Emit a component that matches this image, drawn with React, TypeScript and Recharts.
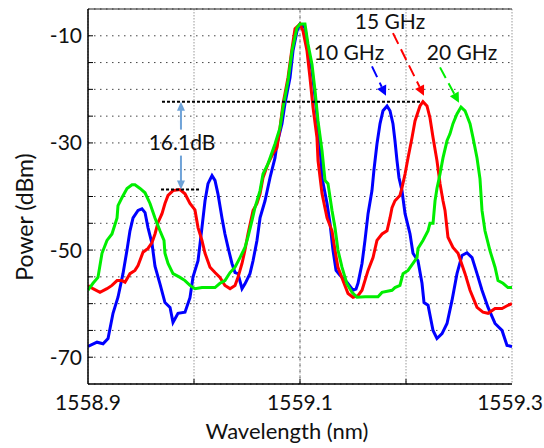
import { LineChart, Line, XAxis, YAxis, CartesianGrid, ReferenceLine, ReferenceDot } from 'recharts';

const FONT = 'Lato, "Open Sans", sans-serif';

// axis ticks
const xTicks = [1558.9, 1559.0, 1559.1, 1559.2, 1559.3];
const xLabels = [1558.9, 1559.1, 1559.3];
const yTicks = [-75, -70, -65, -60, -55, -50, -45, -40, -35, -30, -25, -20, -15, -10, -5];
const yLabels = [-70, -50, -30, -10];

// spectra, [wavelength nm, power dBm]
const spec10: [number, number][] = [
  [1558.9, -68], [1558.9085, -67.2], [1558.9142, -67.5], [1558.9189, -66.5], [1558.9236, -61.8],
  [1558.9283, -58.8], [1558.933, -54.4], [1558.9368, -50], [1558.9396, -46.4], [1558.9425, -44],
  [1558.9472, -42.6], [1558.9509, -42.3], [1558.9538, -43], [1558.9566, -45.8], [1558.9604, -48.8],
  [1558.9632, -53], [1558.9679, -56.3], [1558.9726, -59.8], [1558.9774, -60.7], [1558.9802, -63.5],
  [1558.9849, -61.8], [1558.9915, -61.6], [1558.9962, -58.9], [1558.9991, -55], [1559.0038, -52],
  [1559.0075, -45.8], [1559.0104, -40.8], [1559.0132, -37.6], [1559.017, -36.1], [1559.0198, -37],
  [1559.0226, -39.5], [1559.0264, -44], [1559.0292, -47], [1559.0321, -49.5], [1559.0358, -52.5],
  [1559.0387, -54.2], [1559.0415, -54.4], [1559.0453, -57.2], [1559.0481, -56.3], [1559.0528, -54.4],
  [1559.0557, -52], [1559.0594, -48.2], [1559.0623, -44], [1559.067, -40.8], [1559.0717, -36.5],
  [1559.0764, -32.8], [1559.0783, -30.2], [1559.083, -26.4], [1559.0858, -22.7], [1559.0906, -17.8],
  [1559.0934, -12.8], [1559.0972, -9.1], [1559.1, -7.8], [1559.1047, -8.5], [1559.1075, -12.3],
  [1559.1113, -16.5], [1559.1142, -21.5], [1559.117, -27], [1559.1189, -30.9], [1559.1208, -36.5],
  [1559.1255, -41.3], [1559.1283, -45], [1559.1311, -50], [1559.134, -53.8], [1559.1377, -54.7],
  [1559.1443, -56], [1559.15, -57.5], [1559.1528, -57.3], [1559.1547, -56.2], [1559.1585, -52.5],
  [1559.1613, -48.2], [1559.1642, -43.2], [1559.1679, -38.9], [1559.1698, -35], [1559.1726, -30.2],
  [1559.1755, -26.4], [1559.1783, -24], [1559.1821, -23.1], [1559.1849, -24], [1559.1877, -26.4],
  [1559.1896, -29.6], [1559.1915, -33.3], [1559.1934, -36.5], [1559.1962, -38.9], [1559.1991, -43.2],
  [1559.2038, -47], [1559.2066, -50.6], [1559.2113, -52], [1559.2151, -56.2], [1559.217, -59.8],
  [1559.2208, -60.3], [1559.2255, -65], [1559.2292, -66.5], [1559.234, -65.6], [1559.2387, -63.7],
  [1559.2434, -59.4], [1559.2481, -54.4], [1559.2528, -51], [1559.2575, -50.5], [1559.2623, -51.4],
  [1559.267, -54.4], [1559.2717, -57.5], [1559.2774, -60.7], [1559.284, -63.7], [1559.2906, -65],
  [1559.2953, -67.8], [1559.3, -68],
];

const spec15: [number, number][] = [
  [1558.9, -56.6], [1558.9047, -57.2], [1558.9113, -57.9], [1558.9179, -57.2], [1558.9226, -56.6],
  [1558.9274, -55.7], [1558.9321, -55.7], [1558.9349, -56], [1558.9396, -54.4], [1558.9443, -53.8],
  [1558.9472, -52.9], [1558.9519, -50.4], [1558.9566, -49.7], [1558.9604, -48.6], [1558.9632, -47],
  [1558.966, -44.9], [1558.9698, -43.2], [1558.9726, -41.3], [1558.9755, -39.8], [1558.9802, -38.9],
  [1558.9868, -38.7], [1558.9915, -39.5], [1558.9962, -41.3], [1559.0009, -42.5], [1559.0038, -45.8],
  [1559.0075, -48.2], [1559.0104, -50.6], [1559.0151, -53.2], [1559.0198, -54.2], [1559.0245, -55.1],
  [1559.0292, -56.6], [1559.034, -57.2], [1559.0387, -56.6], [1559.0415, -55.1], [1559.0453, -52.5],
  [1559.0481, -50], [1559.0509, -47], [1559.0557, -42.6], [1559.0594, -41.3], [1559.0623, -39.5],
  [1559.0651, -36.5], [1559.0698, -33.9], [1559.0745, -32], [1559.0783, -30.9], [1559.0811, -27.2],
  [1559.084, -22.7], [1559.0887, -17.8], [1559.0925, -12.3], [1559.0953, -8.7], [1559.1, -7.8],
  [1559.1028, -9.1], [1559.1066, -12.8], [1559.1094, -17.8], [1559.1123, -23.4], [1559.116, -29],
  [1559.117, -33.3], [1559.1208, -39.5], [1559.1255, -44], [1559.1302, -46.4], [1559.133, -50],
  [1559.1358, -53.2], [1559.1406, -55.7], [1559.1453, -58.1], [1559.15, -58.8], [1559.1547, -58.5],
  [1559.1585, -57.5], [1559.1642, -53.8], [1559.1689, -51.4], [1559.1726, -48.2], [1559.1774, -47],
  [1559.1821, -46.4], [1559.1849, -44], [1559.1868, -42.1], [1559.1896, -40.8], [1559.1943, -39.8],
  [1559.1962, -38.4], [1559.1991, -35.8], [1559.2019, -32.8], [1559.2057, -29], [1559.2085, -25.9],
  [1559.2132, -23.1], [1559.216, -22.3], [1559.2198, -23.1], [1559.2226, -25.3], [1559.2255, -29],
  [1559.2292, -33.3], [1559.2321, -37.6], [1559.2349, -40.8], [1559.2368, -42.6], [1559.2396, -47.6],
  [1559.2443, -49.5], [1559.2491, -50.6], [1559.2557, -54.4], [1559.2604, -57.5], [1559.267, -60.7],
  [1559.2726, -61.6], [1559.2774, -61.8], [1559.284, -60.9], [1559.2906, -60.9], [1559.2962, -60.3],
  [1559.3, -60],
];

const spec20: [number, number][] = [
  [1558.9, -57.5], [1558.9047, -56.2], [1558.9094, -55.1], [1558.9132, -50.6], [1558.9179, -48.2],
  [1558.9226, -47], [1558.9274, -44], [1558.9283, -41.7], [1558.9321, -40.2], [1558.9368, -38.5],
  [1558.9415, -37.8], [1558.9443, -37.8], [1558.9491, -38.5], [1558.9538, -39.3], [1558.9585, -41.3],
  [1558.9632, -44], [1558.9679, -46.4], [1558.9717, -48.2], [1558.9726, -50.6], [1558.9755, -52.5],
  [1558.9802, -54.4], [1558.9868, -55.1], [1558.9915, -55.7], [1558.9962, -56.6], [1559.0009, -57.2],
  [1559.0075, -57], [1559.0132, -57], [1559.0198, -57], [1559.0245, -56.2], [1559.0292, -55.7],
  [1559.034, -54.2], [1559.0387, -53.2], [1559.0434, -51.4], [1559.0481, -49.5], [1559.0509, -47.6],
  [1559.0547, -44.5], [1559.0575, -42.1], [1559.0623, -38.9], [1559.0651, -35.8], [1559.0698, -33.9],
  [1559.0764, -30.2], [1559.0811, -27.2], [1559.084, -23.4], [1559.0887, -18.4], [1559.0925, -12.8],
  [1559.0972, -8.5], [1559.1, -7.8], [1559.1047, -7.8], [1559.1075, -11.5], [1559.1113, -15.3],
  [1559.1142, -20.3], [1559.117, -25.9], [1559.1208, -31.5], [1559.1236, -37], [1559.1264, -37.6],
  [1559.1302, -42.6], [1559.133, -45.8], [1559.1358, -50], [1559.1396, -53.2], [1559.1443, -56.3],
  [1559.1491, -57.9], [1559.1538, -58.8], [1559.1613, -58.7], [1559.1736, -58.7], [1559.1774, -57.9],
  [1559.1868, -57.5], [1559.1896, -57], [1559.1943, -56.6], [1559.1972, -54.4], [1559.2019, -53.8],
  [1559.2066, -52.5], [1559.2104, -51.4], [1559.2113, -49.7], [1559.216, -48.2], [1559.2208, -46.4],
  [1559.2226, -45], [1559.2255, -45], [1559.2274, -40.8], [1559.2292, -38.5], [1559.2321, -35.8],
  [1559.2349, -32.8], [1559.2387, -29.6], [1559.2415, -28.3], [1559.2443, -26.4], [1559.2481, -24.6],
  [1559.2519, -23.3], [1559.2557, -24], [1559.2604, -26.4], [1559.2632, -29], [1559.267, -32.8],
  [1559.2698, -36.7], [1559.2717, -42.6], [1559.2745, -46.4], [1559.2792, -50.1], [1559.284, -53.2],
  [1559.2868, -55.7], [1559.2915, -56.2], [1559.2962, -57], [1559.3, -57],
];

const toPts = (arr: [number, number][]) => arr.map(([x, y]) => ({ x, y }));

function XTick({ x, y, payload }: any) {
  const v = payload.value;
  const inner = v > 1558.95 && v < 1559.25;
  const last = v > 1559.25;
  return (
    <g>
      {inner && <line x1={x} x2={x} y1={y} y2={y - 5} stroke="#000" />}
      {xLabels.includes(v) && (
        <text
          x={last ? x + 31 : x}
          y={y + 26}
          textAnchor={last ? 'end' : 'middle'}
          fontSize={21}
          fill="#111"
          fontFamily={FONT}
        >
          {v.toFixed(1)}
        </text>
      )}
    </g>
  );
}

function YTick({ x, y, payload }: any) {
  const v = payload.value;
  return (
    <g>
      {v > -75 && v < -5 && <line x1={x} x2={x + 5} y1={y} y2={y} stroke="#000" />}
      {yLabels.includes(v) && (
        <text x={x - 6} y={y} dy="0.36em" textAnchor="end" fontSize={21} fill="#111" fontFamily={FONT}>
          {v}
        </text>
      )}
    </g>
  );
}

function RightTick({ x, y, payload }: any) {
  const v = payload.value;
  if (v <= -75 || v >= -5) return <g />;
  return <line x1={x} x2={x - 5} y1={y} y2={y} stroke="#000" />;
}

// dashed pointer with a filled head at (x2, y2)
const pointer = (color: string) => (p: any) => {
  const { x1, y1, x2, y2 } = p;
  const dx = x2 - x1;
  const dy = y2 - y1;
  const len = Math.hypot(dx, dy);
  const ux = dx / len;
  const uy = dy / len;
  const h = 10;
  const w = 5;
  const bx = x2 - ux * h;
  const by = y2 - uy * h;
  return (
    <g>
      <line x1={x1} y1={y1} x2={bx} y2={by} stroke={color} strokeWidth={2} strokeDasharray="12 6" />
      <polygon
        points={`${x2},${y2} ${bx - uy * w},${by + ux * w} ${bx + uy * w},${by - ux * w}`}
        fill={color}
      />
    </g>
  );
};

// double arrow with a gap for the text
const dbArrow = (p: any) => {
  const { x1, y1, y2 } = p;
  const top = Math.min(y1, y2);
  const bot = Math.max(y1, y2);
  const mid = (top + bot) / 2 - 2;
  const c = '#6fa3d8';
  return (
    <g>
      <line x1={x1} x2={x1} y1={top + 8} y2={mid - 14} stroke={c} strokeWidth={2} />
      <line x1={x1} x2={x1} y1={mid + 12} y2={bot - 8} stroke={c} strokeWidth={2} />
      <polygon points={`${x1},${top} ${x1 - 4},${top + 9} ${x1 + 4},${top + 9}`} fill={c} />
      <polygon points={`${x1},${bot} ${x1 - 4},${bot - 9} ${x1 + 4},${bot - 9}`} fill={c} />
    </g>
  );
};

const note = (text: string) => (p: any) => (
  <text x={p.cx} y={p.cy} dy="0.36em" textAnchor="middle" fontSize={21} fill="#111" fontFamily={FONT}>
    {text}
  </text>
);

export default function App() {
  return (
    <div style={{ position: 'absolute', left: 0, top: 0, width: 544, height: 448, background: '#fff' }}>
      <LineChart width={544} height={448} margin={{ top: 9, right: 32, bottom: 0, left: 0 }}>
        <CartesianGrid horizontal vertical={false} stroke="#444" strokeDasharray="1.5 4.5" />
        <CartesianGrid horizontal={false} vertical stroke="#999" strokeDasharray="1.5 1.5" />
        <XAxis
          dataKey="x"
          type="number"
          domain={[1558.9, 1559.3]}
          ticks={xTicks}
          allowDataOverflow
          height={64}
          tickSize={0}
          tickMargin={0}
          tickLine={false}
          tick={<XTick />}
          axisLine={{ stroke: '#000', strokeWidth: 1.5 }}
          label={{
            content: () => (
              <text x={287} y={439} textAnchor="middle" fontSize={22} fill="#111" fontFamily={FONT}>
                Wavelength (nm)
              </text>
            ),
          }}
        />
        <YAxis
          type="number"
          domain={[-75, -5]}
          ticks={yTicks}
          allowDataOverflow
          width={88}
          tickSize={0}
          tickMargin={0}
          tickLine={false}
          tick={<YTick />}
          axisLine={{ stroke: '#000', strokeWidth: 1.5 }}
          label={{
            content: () => (
              <text
                x={33}
                y={217}
                transform="rotate(-90, 33, 217)"
                textAnchor="middle"
                fontSize={23}
                fill="#111"
                fontFamily={FONT}
              >
                Power (dBm)
              </text>
            ),
          }}
        />
        <YAxis
          yAxisId="r"
          orientation="right"
          type="number"
          domain={[-75, -5]}
          ticks={yTicks}
          width={0}
          tickSize={0}
          tickMargin={0}
          tickLine={false}
          tick={<RightTick />}
          axisLine={{ stroke: '#777', strokeWidth: 1 }}
        />
        <ReferenceLine y={-5} stroke="#222" strokeWidth={1.2} />
        <ReferenceLine x={1559.1} stroke="#444" strokeDasharray="1.5 4.5" />

        <Line data={toPts(spec10)} dataKey="y" stroke="#0000ff" strokeWidth={3} dot={false} isAnimationActive={false} />
        <Line data={toPts(spec15)} dataKey="y" stroke="#ff0000" strokeWidth={3} dot={false} isAnimationActive={false} />
        <Line data={toPts(spec20)} dataKey="y" stroke="#00ee00" strokeWidth={3} dot={false} isAnimationActive={false} />

        <ReferenceLine
          segment={[{ x: 1558.9698, y: -22.3 }, { x: 1559.2132, y: -22.3 }]}
          stroke="#000"
          strokeWidth={2}
          strokeDasharray="3 2"
        />
        <ReferenceLine
          segment={[{ x: 1558.9689, y: -38.7 }, { x: 1559.006, y: -38.7 }]}
          stroke="#000"
          strokeWidth={2}
          strokeDasharray="3 2"
        />
        <ReferenceLine segment={[{ x: 1558.9877, y: -22.3 }, { x: 1558.9877, y: -38.7 }]} shape={dbArrow} />
        <ReferenceDot x={1558.9887} y={-30} r={0} shape={note('16.1dB')} />

        <ReferenceLine segment={[{ x: 1559.1679, y: -15.7 }, { x: 1559.1811, y: -21.2 }]} shape={pointer('#0000ff')} />
        <ReferenceLine segment={[{ x: 1559.1877, y: -9.5 }, { x: 1559.217, y: -21.2 }]} shape={pointer('#ff0000')} />
        <ReferenceLine segment={[{ x: 1559.2321, y: -15.9 }, { x: 1559.25, y: -22.5 }]} shape={pointer('#00ee00')} />
        <ReferenceDot x={1559.1462} y={-13.1} r={0} shape={note('10 GHz')} />
        <ReferenceDot x={1559.1849} y={-7.4} r={0} shape={note('15 GHz')} />
        <ReferenceDot x={1559.2528} y={-13.1} r={0} shape={note('20 GHz')} />
      </LineChart>
    </div>
  );
}
